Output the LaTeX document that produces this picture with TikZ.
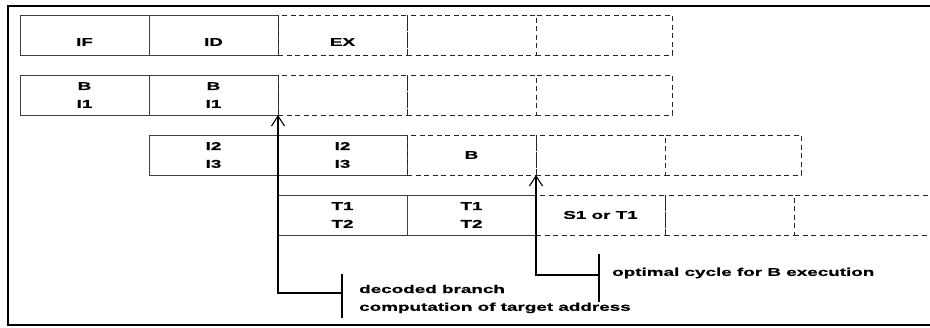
\documentclass[tikz,border=0pt]{standalone}
\usepackage{fontspec}
\newfontfamily\cellfont{Liberation Sans}[FakeStretch=1.67, BoldFeatures={FakeBold=0.6}]
\usetikzlibrary{arrows.meta, positioning}

\begin{document}
\begin{tikzpicture}[x=1pt, y=-1pt, >={Straight Barb[length=10pt, width=13pt]},
    cell/.style={draw=black!75, line width=0.9pt, rectangle, minimum width=129pt,
      minimum height=40pt, inner sep=0pt, outer sep=0pt, align=center,
      font=\cellfont\bfseries\fontsize{11.3}{17.8}\selectfont},
    ghost/.style={cell, draw=black!85, dash pattern=on 5pt off 3.5pt},
    wide/.style={minimum width=136pt},
    txt/.style={font=\cellfont\bfseries\fontsize{11.3}{17.8}\selectfont, align=left, inner sep=0pt},
    frame/.style={line width=2pt}]
    \useasboundingbox (0,0) rectangle (930,327);

    % border
    \draw[frame] (930,6) -| (8,325) -- (930,325);

    % row 1
    \node[cell, anchor=north west] (r1c1) at (20,15) {};
    \node[cell, right=0pt of r1c1] (r1c2) {};
    \node[ghost, right=0pt of r1c2] (r1c3) {};
    \node[ghost, right=0pt of r1c3] (r1c4) {};
    \node[ghost, wide, right=0pt of r1c4] (r1c5) {};
    \node[txt] at ([yshift=-7pt]r1c1.center) {IF};
    \node[txt] at ([yshift=-7pt]r1c2.center) {ID};
    \node[txt] at ([yshift=-7pt]r1c3.center) {EX};

    % row 2
    \node[cell, anchor=north west] (r2c1) at (20,75) {B\\I1};
    \node[cell, right=0pt of r2c1] (r2c2) {B\\I1};
    \node[ghost, right=0pt of r2c2] (r2c3) {};
    \node[ghost, right=0pt of r2c3] (r2c4) {};
    \node[ghost, wide, right=0pt of r2c4] (r2c5) {};

    % row 3
    \node[cell, anchor=north west] (r3c1) at (149,135) {I2\\I3};
    \node[cell, right=0pt of r3c1] (r3c2) {I2\\I3};
    \node[ghost, right=0pt of r3c2] (r3c3) {B};
    \node[ghost, right=0pt of r3c3] (r3c4) {};
    \node[ghost, wide, right=0pt of r3c4] (r3c5) {};

    % row 4
    \node[cell, anchor=north west] (r4c1) at (278,195) {T1\\T2};
    \node[cell, right=0pt of r4c1] (r4c2) {T1\\T2};
    \node[ghost, right=0pt of r4c2] (r4c3) {S1 or T1};
    \node[ghost, right=0pt of r4c3] (r4c4) {};
    \node[ghost, wide, right=0pt of r4c4] (r4c5) {};

    % notes
    \coordinate (bar1) at (342,293);
    \coordinate (bar2) at (599,275);
    \draw[line width=1.1pt] ([yshift=19pt]bar1) -- ([yshift=-25pt]bar1);
    \draw[line width=1.1pt] ([yshift=21pt]bar2) -- ([yshift=-27pt]bar2);
    \node[txt, anchor=west] (note1) at (359,299) {decoded branch\\computation of target address};
    \node[txt, anchor=west] (note2) at (612,273) {optimal cycle for B execution};

    \draw[->, line width=1.1pt] (bar1) -| (r2c2.south east);
    \draw[->, line width=1.1pt] (bar2) -| (r3c3.south east);

\end{tikzpicture}
\end{document}
